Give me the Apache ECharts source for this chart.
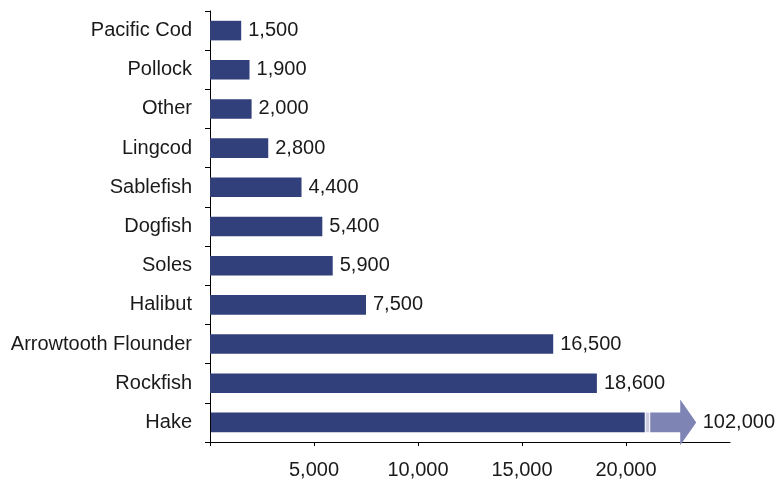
<!DOCTYPE html>
<html>
<head>
<meta charset="utf-8">
<script src="https://cdn.jsdelivr.net/npm/echarts@6/dist/echarts.min.js"></script>
<style>
  html, body { margin: 0; padding: 0; background: #ffffff; }
  #chart { width: 782px; height: 480px; }
</style>
</head>
<body>
<div id="chart"></div>
<script>
// Groundfish catch by species (pounds, thousands)
const categories = ['Pacific Cod', 'Pollock', 'Other', 'Lingcod', 'Sablefish', 'Dogfish',
  'Soles', 'Halibut', 'Arrowtooth Flounder', 'Rockfish', 'Hake'];
const values = [1500, 1900, 2000, 2800, 4400, 5400, 5900, 7500, 16500, 18600, 102000];
const tickValues = [0, 5000, 10000, 15000, 20000];
const tickLabelValues = [5000, 10000, 15000, 20000];

// Values beyond the axis are cut at this point and continued as an arrow
const BREAK_AT = 20900;
const AXIS_MAX = 25000;

const DARK = '#313f7a';
const LIGHT = '#7e85b5';
const PALE = '#c9cce3';
const TEXT = '#1a1a1a';
const FONT = '"Liberation Sans", Arial, Helvetica, sans-serif';

const fmt = v => v.toLocaleString('en-US');

const regularData = values.map(v => (v > BREAK_AT ? '-' : v));
const brokenData = [];
values.forEach((v, i) => { if (v > BREAK_AT) brokenData.push([v, categories[i]]); });

function renderBroken(params, api) {
  const val = api.value(0);
  const cat = api.value(1);
  const base = api.coord([0, cat]);
  const cut = api.coord([BREAK_AT, cat]);
  const band = api.size([0, 1])[1];
  const h = band * 0.5;
  const y = base[1];
  const top = y - h / 2;
  const x0 = base[0] + 1;
  const xb = cut[0];
  const xs = xb + 5.5;          // arrow start
  const bodyLen = 30;
  const headLen = 16;
  const headHalf = h * 1.17;
  const xh = xs + bodyLen;
  const tip = xh + headLen;
  return {
    type: 'group',
    children: [
      { type: 'rect', shape: { x: x0, y: top, width: xb - x0, height: h }, style: { fill: DARK } },
      { type: 'rect', shape: { x: xb + 1, y: top, width: 3.5, height: h }, style: { fill: PALE } },
      {
        type: 'polygon',
        shape: {
          points: [[xs, top], [xh, top], [xh, y - headHalf], [tip, y],
            [xh, y + headHalf], [xh, top + h], [xs, top + h]]
        },
        style: { fill: LIGHT }
      },
      {
        type: 'text',
        x: tip + 6.5,
        y: y,
        style: {
          text: fmt(val), fill: TEXT, font: '20px ' + FONT,
          verticalAlign: 'middle', align: 'left'
        }
      }
    ]
  };
}

const chart = echarts.init(document.getElementById('chart'), null, { renderer: 'canvas' });
chart.setOption({
  animation: false,
  backgroundColor: '#ffffff',
  textStyle: { fontFamily: FONT },
  grid: { left: 210, right: 52, top: 11, bottom: 37, containLabel: false },
  xAxis: {
    type: 'value',
    min: 0,
    max: AXIS_MAX,
    interval: 5000,
    splitLine: { show: false },
    axisLine: { show: true, lineStyle: { color: '#000', width: 1 } },
    axisTick: { show: true, length: 4, customValues: tickValues, lineStyle: { color: '#000' } },
    axisLabel: {
      customValues: tickLabelValues,
      formatter: v => fmt(v),
      color: TEXT, fontSize: 20, fontFamily: FONT, margin: 18
    }
  },
  yAxis: {
    type: 'category',
    data: categories,
    inverse: true,
    axisLine: { show: true, lineStyle: { color: '#000', width: 1 } },
    axisTick: { show: true, length: 5, alignWithLabel: false, lineStyle: { color: '#000' } },
    axisLabel: { color: TEXT, fontSize: 20, fontFamily: FONT, margin: 18 },
    splitLine: { show: false }
  },
  series: [
    {
      type: 'bar',
      data: regularData,
      barWidth: '50%',
      itemStyle: { color: DARK },
      label: {
        show: true, position: 'right', distance: 7,
        formatter: p => fmt(p.value),
        color: TEXT, fontSize: 20, fontFamily: FONT
      }
    },
    {
      type: 'custom',
      data: brokenData,
      encode: { x: 0, y: 1 },
      clip: false,
      z: 5,
      renderItem: renderBroken
    }
  ]
});
</script>
</body>
</html>
